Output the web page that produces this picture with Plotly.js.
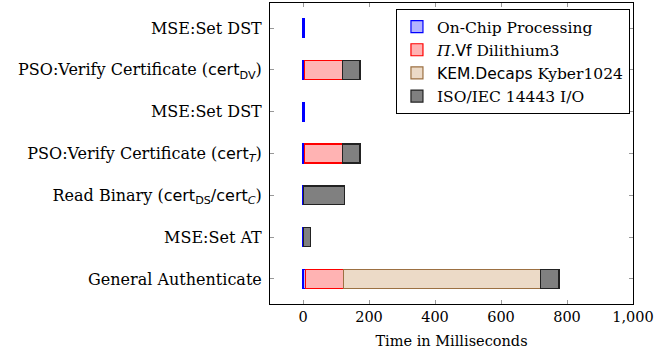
<!DOCTYPE html>
<html>
<head>
<meta charset="utf-8">
<script src="https://cdn.plot.ly/plotly-3.0.1.min.js"></script>
<style>html,body{margin:0;padding:0;background:#fff}#chart{width:656px;height:358px}</style>
</head>
<body>
<div id="chart"></div>
<script>
var SANS = "style='font-family:\"DejaVu Sans\",sans-serif'";
var categories = [
  "MSE:Set DST",
  "PSO:Verify Certificate (<span " + SANS + ">cert<sub>DV</sub></span>)",
  "MSE:Set DST",
  "PSO:Verify Certificate (<span " + SANS + ">cert<sub><i>T</i></sub></span>)",
  "Read Binary (<span " + SANS + ">cert<sub>DS</sub>/cert<sub><i>C</i></sub></span>)",
  "MSE:Set AT",
  "General Authenticate"
];
var seriesNames = [
  "On-Chip Processing",
  "<i>Π</i>.<span " + SANS + ">Vf</span> Dilithium3",
  "<span " + SANS + ">KEM.Decaps</span> Kyber1024",
  "ISO/IEC 14443 I/O"
];
var onChip    = [4, 5, 4, 5, 2, 2, 7];
var dilithium = [null, 115, null, 115, null, null, 115];
var kyber     = [null, null, null, null, null, null, 597];
var io        = [null, 53, null, 53, 124, 21, 57];
var xTicks = [0, 200, 400, 600, 800, 1000];

var pos = categories.map(function(_, i){ return i; });
var fills = ["#b3b3ff", "#ffb3b3", "#ecdac7", "#808080"];
var lines = ["#0000ff", "#ff0000", "#9c7042", "#222222"];
var vals = [onChip, dilithium, kyber, io];
var traces = vals.map(function(v, k){
  return {
    type: "bar", orientation: "h", x: v, y: pos, name: seriesNames[k],
    width: 0.45,
    marker: {color: fills[k], line: {color: lines[k], width: 1.2}},
    hoverinfo: "x"
  };
});

var layout = {
  width: 656, height: 358,
  barmode: "stack",
  margin: {l: 270, r: 23, t: 3, b: 54},
  paper_bgcolor: "#fff", plot_bgcolor: "#fff",
  font: {family: "'DejaVu Serif', serif", size: 15, color: "#000"},
  xaxis: {
    range: [-100, 1000], tickvals: xTicks, tickformat: ",d",
    ticks: "inside", ticklen: 4, tickcolor: "#999",
    showline: true, mirror: "ticks", linecolor: "#000", linewidth: 1,
    showgrid: false, zeroline: false,
    title: {text: "Time in Milliseconds", standoff: 11, font: {size: 14.5}},
    tickfont: {size: 14.5}
  },
  yaxis: {
    range: [6.6, -0.6], tickvals: pos, ticktext: categories,
    ticks: "inside", ticklen: 4, tickcolor: "#999",
    showline: true, mirror: "ticks", linecolor: "#000", linewidth: 1,
    showgrid: false, zeroline: false, ticklabelstandoff: 4,
    tickfont: {size: 16}
  },
  legend: {
    x: 0.347, y: 0.98, xanchor: "left", yanchor: "top",
    bgcolor: "#fff", bordercolor: "#000", borderwidth: 1,
    font: {size: 15.5}, traceorder: "normal", itemwidth: 30
  },
  showlegend: true
};
Plotly.newPlot("chart", traces, layout, {displayModeBar: false, staticPlot: true});
</script>
</body>
</html>
